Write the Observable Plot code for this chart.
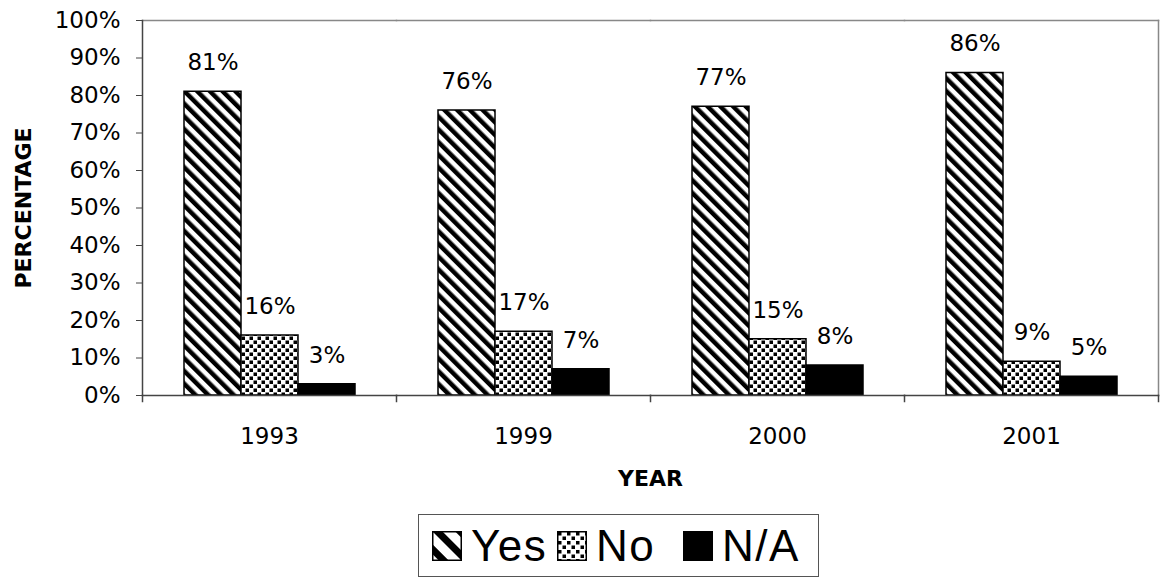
<!DOCTYPE html>
<html><head><meta charset="utf-8">
<script src="https://cdn.jsdelivr.net/npm/d3@7"></script>
<script src="https://cdn.jsdelivr.net/npm/@observablehq/plot@0.6"></script>
<style>
body{margin:0;background:#fff;font-family:"DejaVu Sans",sans-serif;}
#wrap{position:relative;width:1165px;height:577px;overflow:hidden;}
#chart svg{display:block;}
g[aria-label="fx-axis label"] text, g[aria-label="y-axis label"] text{font-weight:bold;font-size:22px;}
#legend{position:absolute;left:418px;top:514px;width:401px;height:63px;border:1px solid #555;box-sizing:border-box;
  font-family:"Liberation Sans",Arial,sans-serif;font-size:44px;letter-spacing:1.5px;color:#000;}
.item{position:absolute;top:0;height:61px;display:flex;align-items:center;}
.item svg{display:block;margin-right:9px;}
</style></head><body>
<svg width="0" height="0" style="position:absolute">
  <defs>
    <pattern id="pat-stripes" patternUnits="userSpaceOnUse" width="9" height="9" patternTransform="rotate(-45)">
      <rect width="9" height="9" fill="#fff"/><rect width="4.5" height="9" fill="#000"/>
    </pattern>
    <pattern id="pat-dots" patternUnits="userSpaceOnUse" width="8" height="8">
      <rect width="8" height="8" fill="#fff"/>
      <rect x="0.5" y="0.5" width="3.5" height="3.5" fill="#000"/>
      <rect x="4.5" y="4.5" width="3.5" height="3.5" fill="#000"/>
    </pattern>
    <pattern id="leg-stripes" patternUnits="userSpaceOnUse" width="16" height="16" patternTransform="rotate(-45)">
      <rect width="16" height="16" fill="#fff"/><rect width="7" height="16" fill="#000"/>
    </pattern>
    <pattern id="leg-dots" patternUnits="userSpaceOnUse" width="9" height="9">
      <rect width="9" height="9" fill="#fff"/>
      <rect x="1" y="1" width="3.5" height="3.5" fill="#000"/>
      <rect x="5.5" y="5.5" width="3.5" height="3.5" fill="#000"/>
    </pattern>
  </defs>
</svg>
<div id="wrap"><div id="chart"></div><div id="legend"></div></div>
<script>
const years = ["1993", "1999", "2000", "2001"];
const series = ["Yes", "No", "N/A"];
const yesValues = [81, 76, 77, 86];
const noValues = [16, 17, 15, 9];
const naValues = [3, 7, 8, 5];
const yTicks = [0, 10, 20, 30, 40, 50, 60, 70, 80, 90, 100];
const seriesFills = ["url(#pat-stripes)", "url(#pat-dots)", "#000"];
const legendFills = ["url(#leg-stripes)", "url(#leg-dots)", "#000"];

const valuesBySeries = {"Yes": yesValues, "No": noValues, "N/A": naValues};
const rows = years.flatMap((yr, i) => series.map(s => ({year: yr, series: s, value: valuesBySeries[s][i]})));

const chart = Plot.plot({
  width: 1165, height: 512,
  marginLeft: 141, marginRight: 7, marginTop: 20, marginBottom: 117,
  style: {fontFamily: "DejaVu Sans", fontSize: "23px", color: "#000", background: "#fff"},
  fx: {domain: years, padding: 0, label: null},
  x: {domain: series, paddingInner: 0, paddingOuter: 0.728, axis: null},
  y: {domain: [0, 100], label: null},
  color: {domain: series, range: seriesFills},
  marks: [
    Plot.frame({anchor: "top", stroke: "#888", strokeWidth: 1.5}),
    Plot.frame({anchor: "right", facetAnchor: "right", stroke: "#888", strokeWidth: 1.5}),
    Plot.barY(rows, {fx: "year", x: "series", y: "value", fill: "series", stroke: "#000", strokeWidth: 1.5, inset: 0}),
    Plot.text(rows, {fx: "year", x: "series", y: "value", text: d => d.value + "%", dy: -29, fontSize: 23, fill: "#000"}),
    Plot.frame({anchor: "bottom", stroke: "#444", strokeWidth: 1.5}),
    Plot.frame({anchor: "left", facetAnchor: "left", stroke: "#444", strokeWidth: 1.5}),
    Plot.frame({anchor: "left", insetTop: 375, insetBottom: -6, stroke: "#444", strokeWidth: 1.5}),
    Plot.frame({anchor: "right", facetAnchor: "right", insetTop: 375, insetBottom: -6, stroke: "#444", strokeWidth: 1.5}),
    Plot.axisY({ticks: yTicks, tickFormat: d => d + "%", tickSize: 6, tickPadding: 16, stroke: "#444",
      label: "PERCENTAGE", labelArrow: "none", labelAnchor: "center", labelOffset: 127}),
    Plot.axisFx({anchor: "bottom", tickSize: 0, tickPadding: 32, label: "YEAR", labelArrow: "none",
      labelAnchor: "center", labelOffset: 90})
  ]
});
document.getElementById("chart").appendChild(chart);

const legend = document.getElementById("legend");
const legendLeft = [13, 138, 264];
series.forEach((s, i) => {
  const item = document.createElement("div");
  item.className = "item";
  item.style.left = legendLeft[i] + "px";
  item.innerHTML = `<svg width="30" height="30"><rect x="0.75" y="0.75" width="28.5" height="28.5" fill="${legendFills[i]}" stroke="#000" stroke-width="1.5"/></svg><span>${s}</span>`;
  legend.appendChild(item);
});
</script>
</body></html>
